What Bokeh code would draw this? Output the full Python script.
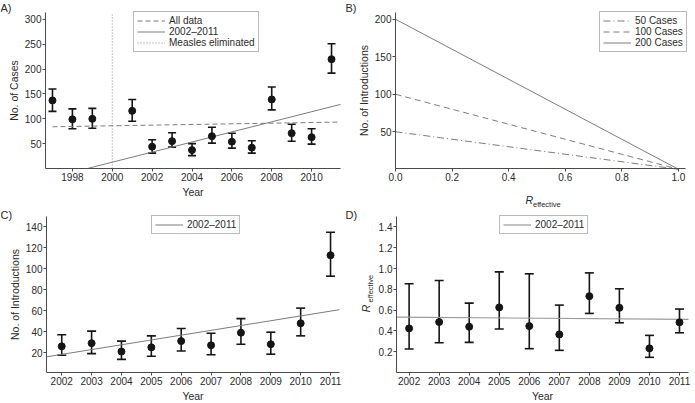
import math
from bokeh.plotting import figure
from bokeh.layouts import column, row
from bokeh.models import (ColumnDataSource, Whisker, TeeHead, FixedTicker,
                          PrintfTickFormatter, Label, Range1d)
from bokeh.embed import file_html
from bokeh.resources import INLINE

# ---------------- data ----------------
# Panel A: reported measles cases per year
a_years = [1997, 1998, 1999, 2001, 2002, 2003, 2004, 2005, 2006, 2007, 2008, 2009, 2010, 2011]
a_cases = [137, 99, 100, 116, 44, 55, 37, 65, 54, 42, 139, 71, 63, 220]
a_upper = [160, 120, 121, 139, 58, 72, 50, 83, 71, 56, 164, 89, 80, 251]
a_lower = [115, 80, 81, 95, 31, 43, 26, 51, 41, 31, 118, 55, 49, 192]
a_fit_all_x = [1997, 2011.45]
a_fit_all_y = [84, 93.5]
a_fit_recent_x = [1998.8, 2011.45]
a_fit_recent_y = [0.5, 129]
a_elim_year = 2000
a_xticks = [1998, 2000, 2002, 2004, 2006, 2008, 2010]
a_yticks = [50, 100, 150, 200, 250, 300]
a_xlim = (1996.65, 2011.45)
a_ylim = (0, 314)

# Panel B: introductions vs R effective
b_reff = [0.0, 1.0]
b_intro_50 = [50, 0]
b_intro_100 = [100, 0]
b_intro_200 = [200, 0]
b_xticks = [0.0, 0.2, 0.4, 0.6, 0.8, 1.0]
b_yticks = [50, 100, 150, 200]
b_xlim = (0, 1.025)
b_ylim = (1, 209)

# Panel C: number of introductions
c_years = [2002, 2003, 2004, 2005, 2006, 2007, 2008, 2009, 2010, 2011]
c_intro = [26, 29, 21, 25, 31, 27, 39, 28, 48, 113]
c_upper = [37, 40.5, 31, 36, 43, 38.5, 52.5, 39.5, 62.5, 135]
c_lower = [17.5, 19, 13.5, 16.5, 21.5, 18, 28, 18.5, 36, 93]
c_fit_x = [2001.5, 2011.3]
c_fit_y = [16, 61]
c_yticks = [20, 40, 60, 80, 100, 120, 140]
c_xlim = (2001.49, 2011.3)
c_ylim = (1, 150)

# Panel D: R effective
d_years = [2002, 2003, 2004, 2005, 2006, 2007, 2008, 2009, 2010, 2011]
d_reff = [0.424, 0.485, 0.44, 0.626, 0.446, 0.366, 0.734, 0.622, 0.232, 0.482]
d_upper = [0.853, 0.885, 0.667, 0.968, 0.949, 0.648, 0.958, 0.805, 0.357, 0.61]
d_lower = [0.226, 0.286, 0.29, 0.418, 0.229, 0.213, 0.568, 0.478, 0.146, 0.382]
d_fit_x = [2001.58, 2011.3]
d_fit_y = [0.533, 0.51]
d_yticks = [0.2, 0.4, 0.6, 0.8, 1.0, 1.2, 1.4]
d_xlim = (2001.58, 2011.3)
d_ylim = (0, 1.5)

# ---------------- style / geometry ----------------
FONT = "Liberation Sans"
TXT = "#2a2a2a"
AX = "#4a4a4a"
LINE = "#7c7c7c"
PT = "#151515"

TOP_H, BOT_H = 208, 195
LEFT_W, RIGHT_W = 345, 350


def full_range(d0, d1, p0, p1, total):
    """Extend a data interval shown between pixels p0..p1 to the whole canvas 0..total."""
    s = (d1 - d0) / (p1 - p0)
    return Range1d(d0 - p0 * s, d0 + (total - p0) * s)


def make_fig(w, h, xlim, ylim, box):
    # box = (left, right, top, bottom) of the plotting area in canvas pixels (top-down)
    L, R, T, B = box
    p = figure(width=w, height=h,
               x_range=full_range(xlim[0], xlim[1], L, R, w),
               y_range=full_range(ylim[0], ylim[1], h - B, h - T, h),
               output_backend="svg", toolbar_location=None,
               min_border_left=0, min_border_right=0,
               min_border_top=0, min_border_bottom=0)
    p.outline_line_color = None
    p.grid.visible = False
    p.background_fill_color = "white"
    p.xaxis.fixed_location = ylim[0]
    p.yaxis.fixed_location = xlim[0]
    p.xaxis.bounds = xlim
    p.yaxis.bounds = ylim
    for ax in (p.xaxis, p.yaxis):
        ax.axis_line_color = AX
        ax.axis_line_width = 1
        ax.major_tick_line_color = AX
        ax.major_tick_in = 0
        ax.major_tick_out = 3
        ax.minor_tick_line_color = None
        ax.major_label_text_font = FONT
        ax.major_label_text_font_size = "10px"
        ax.major_label_text_color = TXT
        ax.axis_label_text_font = FONT
        ax.axis_label_text_font_size = "10.5px"
        ax.axis_label_text_font_style = "normal"
        ax.axis_label_text_color = TXT
        ax.axis_label_standoff = 2
    p.xaxis.major_label_standoff = 1
    p.yaxis.major_label_standoff = 1
    return p


def style_legend(p, loc):
    lg = p.legend[0]
    lg.location = loc
    lg.margin = 0
    lg.padding = 3
    lg.spacing = 0
    lg.label_text_font = FONT
    lg.label_text_font_size = "10px"
    lg.label_text_color = TXT
    lg.label_height = 11
    lg.glyph_height = 11
    lg.glyph_width = 28
    lg.label_standoff = 4
    lg.border_line_color = "#777777"
    lg.border_line_width = 1
    lg.background_fill_alpha = 1


def add_text(p, h, text, x, y_top, size="11px", style="normal", baseline="top", angle=0.0):
    p.add_layout(Label(x=x, y=h - y_top, x_units="screen", y_units="screen", text=text,
                       text_font=FONT, text_font_size=size, text_font_style=style,
                       text_color=TXT, text_baseline=baseline, text_align="left",
                       angle=angle))


def error_points(p, xs, ys, lo, hi, cap):
    src = ColumnDataSource(dict(x=xs, y=ys, lower=lo, upper=hi))
    wk = Whisker(base="x", upper="upper", lower="lower", source=src, dimension="height",
                 line_color=PT, line_width=1.6,
                 upper_head=TeeHead(size=cap, line_color=PT, line_width=1.6),
                 lower_head=TeeHead(size=cap, line_color=PT, line_width=1.6))
    wk.level = "underlay"
    p.add_layout(wk)
    p.scatter("x", "y", source=src, size=7, fill_color=PT, line_color=PT)


# ---------------- Panel A ----------------
boxA = (45, 340, 12, 168)
pA = make_fig(LEFT_W, TOP_H, a_xlim, a_ylim, boxA)
pA.line(a_fit_all_x, a_fit_all_y, line_color=LINE, line_width=1, line_dash="5 3",
        legend_label="All data")
pA.line(a_fit_recent_x, a_fit_recent_y, line_color=LINE, line_width=1,
        legend_label="2002–2011")
pA.line([a_elim_year, a_elim_year], list(a_ylim), line_color="#8a8a8a", line_width=1,
        line_dash="1 2", legend_label="Measles eliminated")
error_points(pA, a_years, a_cases, a_lower, a_upper, 8)
pA.xaxis.ticker = FixedTicker(ticks=a_xticks)
pA.yaxis.ticker = FixedTicker(ticks=a_yticks)
pA.xaxis.axis_label = "Year"
pA.yaxis.axis_label = "No. of Cases"
style_legend(pA, (133, TOP_H - 52))
add_text(pA, TOP_H, "A)", 0, 1)

# ---------------- Panel B ----------------
boxB = (50, 340, 12, 168)
pB = make_fig(RIGHT_W, TOP_H, b_xlim, b_ylim, boxB)
pB.line(b_reff, b_intro_50, line_color=LINE, line_width=1, line_dash="7 3 1 3",
        legend_label="50 Cases")
pB.line(b_reff, b_intro_100, line_color=LINE, line_width=1, line_dash="6 4",
        legend_label="100 Cases")
pB.line(b_reff, b_intro_200, line_color=LINE, line_width=1,
        legend_label="200 Cases")
pB.xaxis.ticker = FixedTicker(ticks=b_xticks)
pB.xaxis.formatter = PrintfTickFormatter(format="%.1f")
pB.yaxis.ticker = FixedTicker(ticks=b_yticks)
pB.yaxis.axis_label = "No. of Introductions"
style_legend(pB, (254, TOP_H - 52))
add_text(pB, TOP_H, "B)", 0, 1)
add_text(pB, TOP_H, "R", 180, 199, size="10.5px", style="italic", baseline="alphabetic")
add_text(pB, TOP_H, "effective", 187.5, 203.5, size="7.5px", baseline="alphabetic")

# ---------------- Panel C ----------------
boxC = (46, 339, 8, 164)
pC = make_fig(LEFT_W, BOT_H, c_xlim, c_ylim, boxC)
pC.line(c_fit_x, c_fit_y, line_color=LINE, line_width=1, legend_label="2002–2011")
error_points(pC, c_years, c_intro, c_lower, c_upper, 9)
pC.xaxis.ticker = FixedTicker(ticks=c_years)
pC.yaxis.ticker = FixedTicker(ticks=c_yticks)
pC.xaxis.axis_label = "Year"
pC.yaxis.axis_label = "No. of Introductions"
style_legend(pC, (151, BOT_H - 26))
add_text(pC, BOT_H, "C)", 0, 0)

# ---------------- Panel D ----------------
boxD = (51, 343, 8, 164)
pD = make_fig(RIGHT_W, BOT_H, d_xlim, d_ylim, boxD)
pD.line(d_fit_x, d_fit_y, line_color="#999999", line_width=1.2, legend_label="2002–2011")
error_points(pD, d_years, d_reff, d_lower, d_upper, 9)
pD.xaxis.ticker = FixedTicker(ticks=d_years)
pD.yaxis.ticker = FixedTicker(ticks=d_yticks)
pD.yaxis.formatter = PrintfTickFormatter(format="%.1f")
pD.xaxis.axis_label = "Year"
style_legend(pD, (154, BOT_H - 26))
add_text(pD, BOT_H, "D)", 0, 0)
add_text(pD, BOT_H, "R", 20, 103.7, size="10.5px", style="italic",
         baseline="alphabetic", angle=math.pi / 2)
add_text(pD, BOT_H, "effective", 25, 94, size="7.5px",
         baseline="alphabetic", angle=math.pi / 2)

layout = column(row(pA, pB, spacing=0), row(pC, pD, spacing=0), spacing=0)

with open("out.html", "w") as f:
    f.write(file_html(layout, INLINE))
